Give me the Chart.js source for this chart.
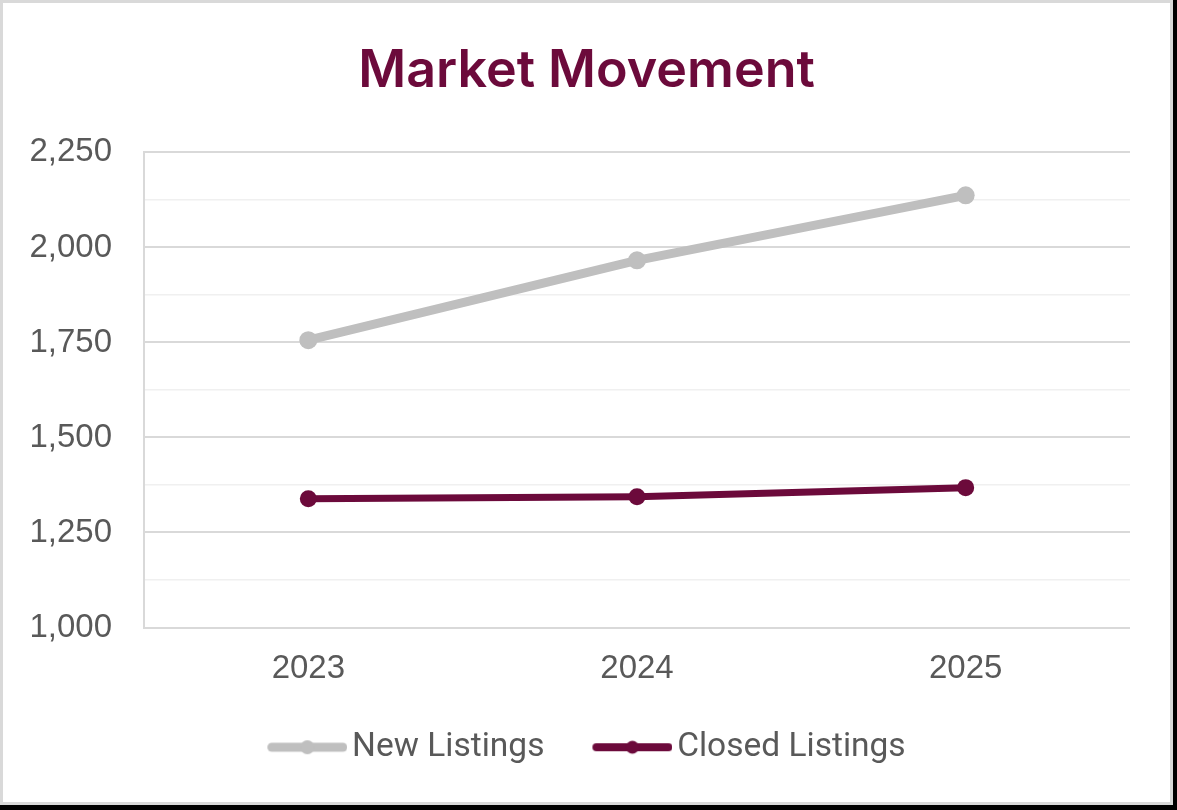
<!DOCTYPE html>
<html>
<head>
<meta charset="utf-8">
<script src="https://cdn.jsdelivr.net/npm/chart.js@4"></script>
<style>
  html, body { margin: 0; padding: 0; background: #000; }
  #frame { position: absolute; left: 0; top: 0; width: 1173px; height: 805px; box-sizing: border-box;
           background: #fff; border: 3px solid #d9d9d9; }
  #wrap { position: absolute; left: 0; top: 0; width: 1173px; height: 805px; }
</style>
</head>
<body>
<div id="frame"></div>
<div id="wrap"><canvas id="myChart"></canvas></div>
<script>
// chart data
const years = ['2023', '2024', '2025'];
const newListings = [1756, 1966, 2137];
const closedListings = [1339, 1344, 1368];
const yTickLabels = [1000, 1250, 1500, 1750, 2000, 2250];

const maroon = '#6c0a3b';
const grey = '#bfbfbf';

// little line + dot used as legend marker
// (canvas is wider on the left so the line starts at the legend item's left edge)
function legendIcon(color, lw, r) {
  const c = document.createElement('canvas');
  c.width = 92; c.height = 22;
  const g = c.getContext('2d');
  g.strokeStyle = color; g.lineWidth = lw; g.lineCap = 'round';
  g.beginPath(); g.moveTo(12 + lw / 2, 11); g.lineTo(92 - lw / 2, 11); g.stroke();
  g.fillStyle = color;
  g.beginPath(); g.arc(52, 11, r, 0, Math.PI * 2); g.fill();
  return c;
}
const icons = [legendIcon(grey, 9, 7), legendIcon(maroon, 8, 6.5)];

const data = {
  labels: years,
  datasets: [{
    label: 'New Listings',
    data: newListings,
    borderColor: grey,
    backgroundColor: grey,
    borderWidth: 9,
    pointRadius: 9,
    pointBorderWidth: 0,
    pointHoverRadius: 9
  }, {
    label: 'Closed Listings',
    data: closedListings,
    borderColor: maroon,
    backgroundColor: maroon,
    borderWidth: 7,
    pointRadius: 8.5,
    pointBorderWidth: 0,
    pointHoverRadius: 8.5
  }]
};

const config = {
  type: 'line',
  data: data,
  options: {
    responsive: true,
    maintainAspectRatio: false,
    animation: false,
    layout: { padding: { left: 0, right: 0, top: 0, bottom: 31 } },
    plugins: {
      title: {
        display: true,
        text: 'Market Movement',
        color: maroon,
        font: { family: 'Inter', size: 52, weight: '600' },
        padding: { top: 40, bottom: 50 }
      },
      legend: {
        display: true,
        position: 'bottom',
        labels: {
          usePointStyle: true,
          pointStyleWidth: 68,
          color: '#595959',
          font: { family: 'Roboto', size: 33.5 },
          padding: 48,
          generateLabels: (chart) => {
            const items = Chart.defaults.plugins.legend.labels.generateLabels(chart);
            items.forEach((it, i) => { it.pointStyle = icons[i]; });
            return items;
          }
        }
      },
      tooltip: { enabled: false }
    },
    scales: {
      x: {
        offset: true,
        grid: { display: false, drawTicks: false },
        border: { display: false },
        ticks: { color: '#595959', font: { family: 'Liberation Sans', size: 33 }, padding: 22 },
        afterFit: (s) => { s.height = 55; }
      },
      y: {
        min: 1000,
        max: 2250,
        ticks: {
          stepSize: 125,
          color: '#595959',
          font: { family: 'Liberation Sans', size: 33 },
          padding: 32,
          callback: (v) => yTickLabels.includes(v) ? v.toLocaleString('en-US') : ''
        },
        grid: {
          drawTicks: false,
          color: (ctx) => yTickLabels.includes(ctx.tick.value) ? '#d9d9d9' : '#f0f0f0',
          lineWidth: (ctx) => yTickLabels.includes(ctx.tick.value) ? 2 : 1.5
        },
        border: { display: true, color: '#d9d9d9', width: 2 },
        afterFit: (s) => { s.width = 144; }
      },
      // empty right-hand box, keeps the plot off the right edge
      // while the title and legend stay centred on the whole canvas
      yRight: {
        position: 'right',
        display: true,
        grid: { display: false, drawTicks: false },
        border: { display: false },
        ticks: { display: false },
        afterFit: (s) => { s.width = 43; }
      }
    }
  }
};

const myChart = new Chart(document.getElementById('myChart'), config);
</script>
</body>
</html>
